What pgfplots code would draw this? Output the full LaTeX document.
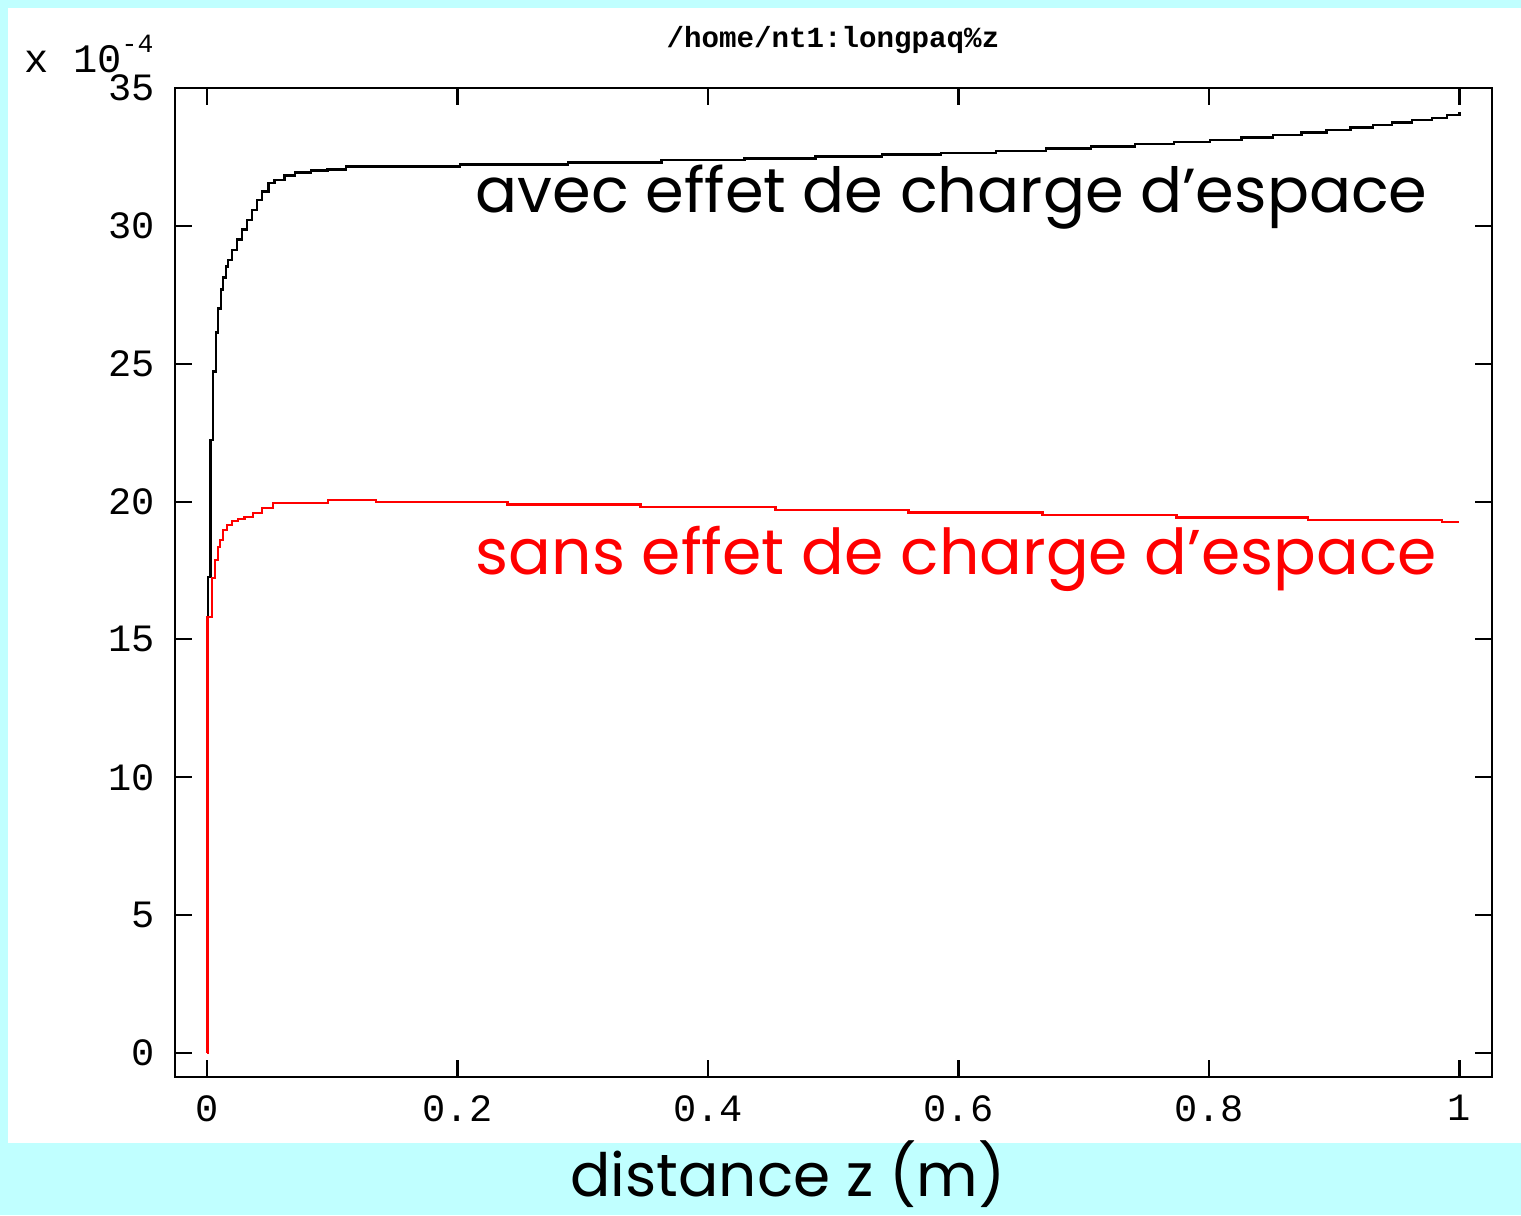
\documentclass[border=0pt]{standalone}
\usepackage{fontspec}
\usepackage{pgfplots}
\pgfplotsset{compat=1.18}
\setmonofont{Liberation Mono}
\newfontfamily\gothic{Poppins}
\definecolor{bgcyan}{RGB}{192,255,255}
\definecolor{curvered}{RGB}{255,0,0}

\pgfplotstableread{
x y
0 0
0.0004 15.82
0.004 17.23
0.0064 17.89
0.0088 18.36
0.0104 18.61
0.0128 18.97
0.016 19.16
0.020 19.30
0.0248 19.37
0.030 19.45
0.0367 19.59
0.044 19.77
0.0527 19.95
0.0966 20.06
0.135 19.98
0.240 19.90
0.346 19.80
0.454 19.70
0.560 19.60
0.667 19.51
0.774 19.42
0.879 19.34
0.986 19.25
1.0 19.25
}\sanscharge

\pgfplotstableread{
x y
0.0008 13.06
0.0008 17.27
0.0028 22.24
0.0048 24.71
0.0072 26.13
0.0088 27.00
0.0112 27.69
0.0128 28.13
0.0152 28.53
0.0168 28.77
0.020 29.13
0.024 29.50
0.028 29.86
0.032 30.22
0.036 30.58
0.040 30.94
0.044 31.24
0.049 31.56
0.054 31.67
0.062 31.82
0.070 31.93
0.083 32.00
0.096 32.05
0.111 32.15
0.202 32.22
0.288 32.30
0.363 32.38
0.429 32.45
0.486 32.52
0.539 32.58
0.586 32.65
0.630 32.72
0.670 32.80
0.706 32.88
0.741 32.96
0.772 33.04
0.801 33.12
0.826 33.20
0.851 33.29
0.874 33.38
0.894 33.47
0.913 33.56
0.931 33.65
0.946 33.74
0.962 33.83
0.978 33.92
0.990 34.02
1.0 34.12
}\avecharge

\begin{document}
\begin{tikzpicture}
% background: cyan frame, white plot panel
\fill[bgcyan] (0,0) rectangle (15.21,-12.15);
\fill[white] (0.08,-0.08) rectangle (15.21,-11.43);

\begin{axis}[
    at={(1.75cm,-10.77cm)}, anchor=south west,
    scale only axis,
    width=13.17cm, height=9.89cm,
    xmin=-0.0256, xmax=1.026,
    ymin=-0.87, ymax=35,
    xtick={0,0.2,...,1},
    ytick={0,5,...,35},
    tick align=inside,
    major tick length=1.7mm,
    axis line style={line width=0.6pt},
    tick style={line width=0.6pt, black},
    ticklabel style={font=\ttfamily\fontsize{11}{13}\selectfont},
    yticklabel style={xshift=-0.8mm},
    xticklabel style={yshift=-0.6mm},
    /pgf/number format/assume math mode=true,
    clip=false,
]
\addplot[const plot, black, line width=0.7pt] table {\avecharge};
\addplot[const plot, curvered, line width=0.7pt] table {\sanscharge};

\node[anchor=base west, inner sep=0pt, font=\gothic\fontsize{17.7}{20}\selectfont]
    at (axis cs:0.214,30.47) {avec effet de charge d’espace};
\node[anchor=base west, inner sep=0pt, text=curvered, font=\gothic\fontsize{18}{20}\selectfont]
    at (axis cs:0.214,17.34) {sans effet de charge d’espace};
\end{axis}

\node[anchor=center, font=\ttfamily\bfseries\fontsize{8.3}{10}\selectfont] at (8.33,-0.40) {/home/nt1:longpaq\%z};
\node[anchor=base west, inner sep=0pt, font=\ttfamily\fontsize{11.5}{13}\selectfont] at (0.24,-0.72) {x 10\raisebox{0.9ex}{\fontsize{7.5}{8}\selectfont -4}};
\node[anchor=base, inner sep=0pt, font=\gothic\fontsize{17}{20}\selectfont] at (7.88,-11.96) {distance z (m)};

\pgfresetboundingbox
\path (0,0) rectangle (15.21,-12.15);
\end{tikzpicture}
\end{document}
